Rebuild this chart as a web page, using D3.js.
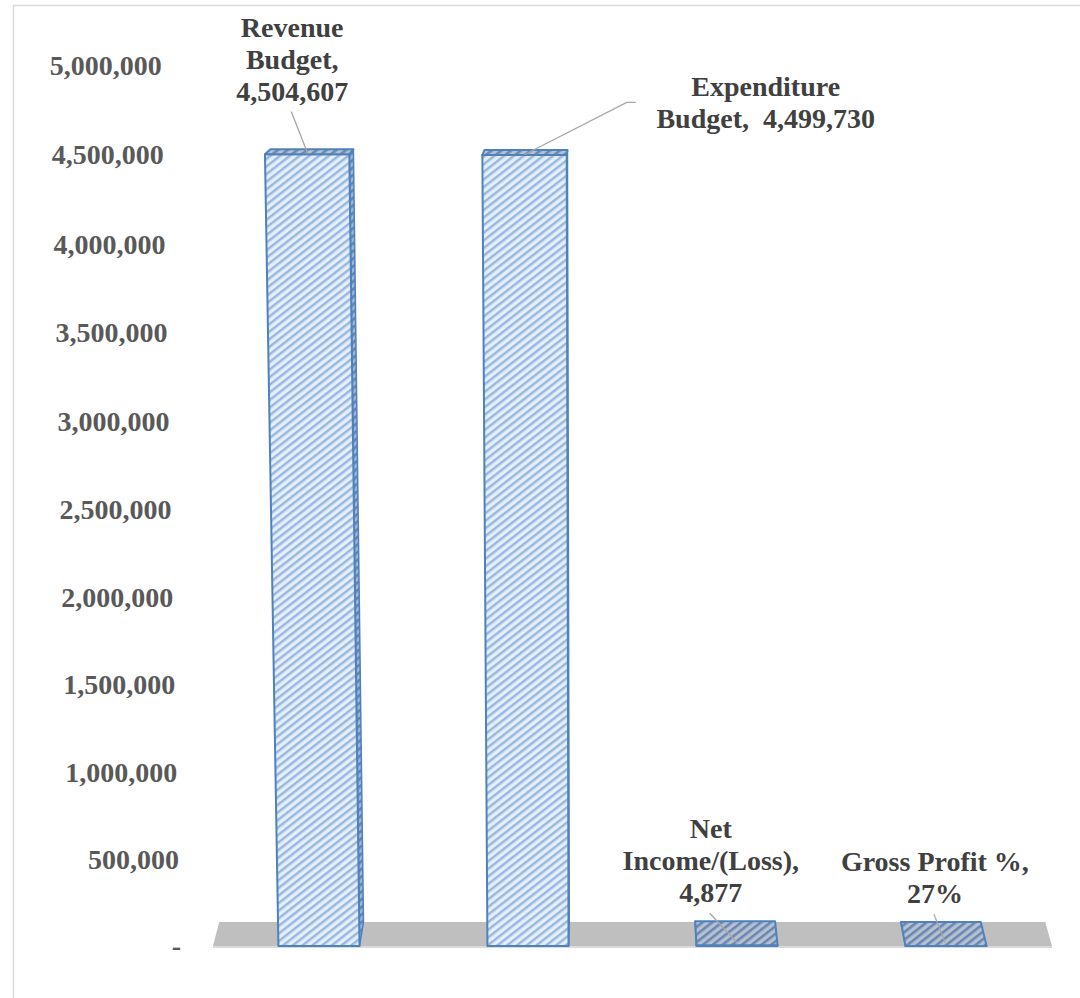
<!DOCTYPE html>
<html>
<head>
<meta charset="utf-8">
<script src="https://cdn.jsdelivr.net/npm/d3@7"></script>
<style>
  html, body { margin: 0; padding: 0; background: #ffffff; }
  svg { display: block; }
  text { font-family: "Liberation Serif", "Times New Roman", serif; font-weight: bold; white-space: pre; }
</style>
</head>
<body>
<svg id="chart" width="1080" height="998"></svg>
<script>
// ---- data ----
const categories = ["Revenue Budget", "Expenditure Budget", "Net Income/(Loss)", "Gross Profit %"];
const values = [4504607, 4499730, 4877, 0.27];
const valueFormats = [",", ",", ",", ".0%"];
// label text per bar; "{v}" is replaced by the formatted value
const labelLines = [
  ["Revenue", "Budget,", "{v}"],
  ["Expenditure", "Budget,  {v}"],
  ["Net", "Income/(Loss),", "{v}"],
  ["Gross Profit %,", "{v}"]
];
const yTicks = [0, 500000, 1000000, 1500000, 2000000, 2500000, 3000000, 3500000, 4000000, 4500000, 5000000];

// ---- layout ----
const floorLeft = 213, floorRight = 1052, floorY = 946;
const svg = d3.select("#chart");

const x = d3.scaleBand().domain(categories).range([floorLeft, floorRight])
  .paddingInner(0.612).paddingOuter(0.313);
const y = d3.scaleLinear().domain([0, 5000000]).range([floorY, 80.6]);

// simple perspective: taller parts come slightly closer, the back of the floor recedes
const VX = 614;                 // horizontal centre of projection
const STRETCH = 2e-5;           // vertical stretch per pixel of height
const GROW = 0.04 / 789;        // widening per pixel of height
const RECEDE = 0.0155;          // narrowing at the back of the floor
const DEPTH0 = 24;              // floor depth in pixels at height 0
const DEPTH_SHRINK = 19 / 789;  // depth foreshortening per pixel of height
function P(X, h, z) {
  const hs = h * (1 + STRETCH * h);
  const s = (1 + GROW * hs) * (1 - RECEDE * z);
  const d = DEPTH0 - DEPTH_SHRINK * hs;
  return [VX + (X - VX) * s, floorY - hs - z * d];
}
const poly = pts => "M" + pts.map(p => p.join(",")).join("L") + "Z";

// ---- hatch patterns ----
const defs = svg.append("defs");
function hatch(id, bg, fg, w) {
  const p = defs.append("pattern").attr("id", id)
    .attr("patternUnits", "userSpaceOnUse").attr("width", 6).attr("height", 6)
    .attr("patternTransform", "rotate(-38)");
  p.append("rect").attr("width", 6).attr("height", 6).attr("fill", bg);
  p.append("rect").attr("width", 6).attr("height", w).attr("fill", fg);
}
hatch("hFront", "#e6eef9", "#97b8e2", 2.5);
hatch("hTop", "#b6c1d0", "#6a87b4", 2.6);
hatch("hSide", "#9fb6d8", "#5f82b8", 2.6);

// chart area border
svg.append("rect").attr("x", 13.5).attr("y", 5.5).attr("width", 1200).attr("height", 1200)
  .attr("fill", "none").attr("stroke", "#d9d9d9").attr("stroke-width", 1.5);

// ---- floor ----
svg.append("path")
  .attr("d", poly([[floorLeft, floorY], [floorRight, floorY], [floorRight, floorY + 2], [floorLeft, floorY + 2]]))
  .attr("fill", "#dadada");
svg.append("path")
  .attr("d", poly([P(floorLeft, 0, 0), P(floorRight, 0, 0), P(floorRight, 0, 1), P(floorLeft, 0, 1)]))
  .attr("fill", "#bfbfbf");

// ---- y axis labels ----
const axisX = 181;
svg.append("g").selectAll("text").data(yTicks).join("text")
  .attr("x", d => P(axisX, floorY - y(d), 0)[0])
  .attr("y", d => P(axisX, floorY - y(d), 0)[1] + 3)
  .attr("text-anchor", "end").attr("dominant-baseline", "middle")
  .attr("font-size", 28).attr("fill", "#595959")
  .text(d => d === 0 ? "-" : d3.format(",")(d));

// ---- bars ----
const bars = categories.map((c, i) => {
  const x0 = x(c), x1 = x(c) + x.bandwidth();
  const h = floorY - y(values[i]);
  return { c, i, x0, x1, h, cx: (x0 + x1) / 2 };
});
const stroke = "#4f81bd";
const gBars = svg.append("g");
bars.forEach(b => {
  const g = gBars.append("g");
  const sideX = b.cx < VX ? b.x1 : b.x0;
  g.append("path")
    .attr("d", poly([P(sideX, 0, 0), P(sideX, b.h, 0), P(sideX, b.h, 1), P(sideX, 0, 1)]))
    .attr("fill", "url(#hSide)").attr("stroke", stroke).attr("stroke-width", 1.5).attr("stroke-linejoin", "round");
  g.append("path")
    .attr("d", poly([P(b.x0, 0, 0), P(b.x1, 0, 0), P(b.x1, b.h, 0), P(b.x0, b.h, 0)]))
    .attr("fill", "url(#hFront)").attr("stroke", stroke).attr("stroke-width", 2).attr("stroke-linejoin", "round");
  g.append("path")
    .attr("d", poly([P(b.x0, b.h, 0), P(b.x1, b.h, 0), P(b.x1, b.h, 1), P(b.x0, b.h, 1)]))
    .attr("fill", "url(#hTop)").attr("stroke", stroke).attr("stroke-width", 2).attr("stroke-linejoin", "round");
});

// ---- data labels with leader lines ----
// offset of each label block (centre x, last baseline) from its leader anchor
const labelOffsets = [[-15.5, -53], [241, -26], [-26, -40], [-10.5, -40]];
const lineGap = 32;
const gLab = svg.append("g");
bars.forEach(b => {
  const a = P(b.cx, b.h, 0.12);
  const [dx, dy] = labelOffsets[b.i];
  const lcx = a[0] + dx, lastBase = a[1] + dy;
  const lines = labelLines[b.i].map(s => s.replace("{v}", d3.format(valueFormats[b.i])(values[b.i])));
  const n = lines.length;
  gLab.append("text")
    .attr("text-anchor", "middle")
    .attr("font-size", 28).attr("fill", "#404040")
    .selectAll("tspan").data(lines).join("tspan")
    .attr("x", lcx).attr("y", (d, k) => lastBase - (n - 1 - k) * lineGap)
    .text(d => d);
  let pts;
  if (b.i === 1) {
    const firstBase = lastBase - (n - 1) * lineGap;
    const end = [lcx - 130, firstBase + 6];
    pts = [a, [end[0] - 9, end[1]], end];
  } else {
    pts = [a, [lcx - 1, lastBase + 11]];
  }
  gLab.append("path").attr("d", d3.line()(pts))
    .attr("fill", "none").attr("stroke", "#a6a6a6").attr("stroke-width", 1.3);
});
</script>
</body>
</html>
